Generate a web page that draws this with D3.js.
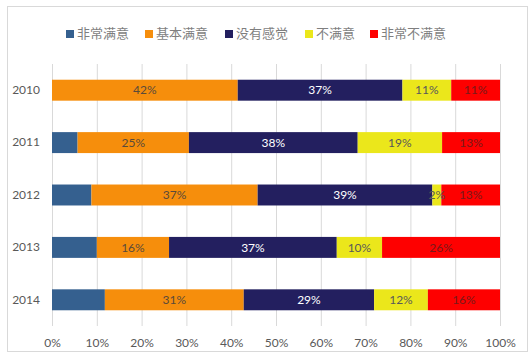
<!DOCTYPE html>
<html><head><meta charset="utf-8">
<script src="https://cdn.jsdelivr.net/npm/d3@7"></script>
<style>
body{margin:0;background:#fff;}
svg{display:block;}
</style></head>
<body>
<svg id="chart" width="532" height="356"></svg>
<script>
const years = ["2010","2011","2012","2013","2014"];
const seriesNames = ["非常满意","基本满意","没有感觉","不满意","非常不满意"];
const seriesColors = ["#35608f","#f68e0c","#231f5f","#ebe71b","#fe0000"];
const labelColors = [null,"#5a4a3a","#ffffff","#595959","#7a1a1a"];
const v1 = [0, 5.7, 8.8, 10.0, 11.8];
const v2 = [41.5, 24.8, 37.1, 16.1, 31.0];
const v3 = [36.8, 37.6, 39.0, 37.4, 29.1];
const v4 = [10.9, 18.8, 2.0, 10.1, 12.0];
const v5 = [10.9, 12.9, 13.1, 26.3, 16.1];
const ticks = [0,0.1,0.2,0.3,0.4,0.5,0.6,0.7,0.8,0.9,1];

const svg = d3.select("#chart");
const font = "Lato, 'Noto Sans', sans-serif";
const cjk = "'Noto Sans CJK SC', sans-serif";

svg.append("rect").attr("x",7.5).attr("y",6.5).attr("width",520).attr("height",345)
  .attr("fill","#fff").attr("stroke","#d9d9d9");

const rows = years.map((y,i)=>({year:y, s0:v1[i], s1:v2[i], s2:v3[i], s3:v4[i], s4:v5[i]}));
const keys = ["s0","s1","s2","s3","s4"];
const stacked = d3.stack().keys(keys).offset(d3.stackOffsetExpand)(rows);

const x = d3.scaleLinear().domain([0,1]).range([52,500]);
const y = d3.scaleBand().domain(years).range([64,326]).paddingInner(0.6).paddingOuter(0.3);

// gridlines
svg.append("g").selectAll("line").data(ticks).join("line")
  .attr("x1",d=>x(d)+0.5).attr("x2",d=>x(d)+0.5).attr("y1",64).attr("y2",326)
  .attr("stroke","#d9d9d9").attr("stroke-width",1);

// x axis labels
const xa = svg.append("g").attr("transform","translate(0,326)")
  .call(d3.axisBottom(x).tickValues(ticks).tickFormat(d3.format(".0%")).tickSize(0).tickPadding(12));
xa.select(".domain").remove();
xa.selectAll("text").attr("fill","#595959").style("font-family",font).style("font-size","12px");

// y axis labels
const ya = svg.append("g").attr("transform","translate(52,0)")
  .call(d3.axisLeft(y).tickSize(0).tickPadding(12));
ya.select(".domain").remove();
ya.selectAll("text").attr("fill","#595959").style("font-family",font).style("font-size","12px");

// bars
const layers = svg.append("g").selectAll("g").data(stacked).join("g")
  .attr("fill",(d,i)=>seriesColors[i]);
layers.selectAll("rect").data(d=>d).join("rect")
  .attr("x",d=>x(d[0])).attr("width",d=>x(d[1])-x(d[0]))
  .attr("y",d=>y(d.data.year)).attr("height",y.bandwidth());

// labels
stacked.forEach((layer,i)=>{
  if(!labelColors[i]) return;
  svg.append("g").selectAll("text").data(layer.filter(d=>d[1]-d[0]>0)).join("text")
    .attr("x",d=>(x(d[0])+x(d[1]))/2)
    .attr("y",d=>y(d.data.year)+y.bandwidth()/2)
    .attr("dy","0.35em").attr("text-anchor","middle")
    .attr("fill",labelColors[i])
    .style("font-family",font).style("font-size","12px")
    .text(d=>Math.round(d.data[layer.key])+"%");
});

// legend
const legendX = [66,145,225,305,370];
const lg = svg.append("g").selectAll("g").data(seriesNames).join("g")
  .attr("transform",(d,i)=>`translate(${legendX[i]},33)`);
lg.append("rect").attr("x",0).attr("y",-3).attr("width",8).attr("height",8)
  .attr("fill",(d,i)=>seriesColors[i]);
lg.append("text").attr("x",11).attr("y",0).attr("dy","0.35em")
  .attr("fill","#7f7f7f").style("font-family",cjk).style("font-size","13px")
  .text(d=>d);
</script>
</body></html>
